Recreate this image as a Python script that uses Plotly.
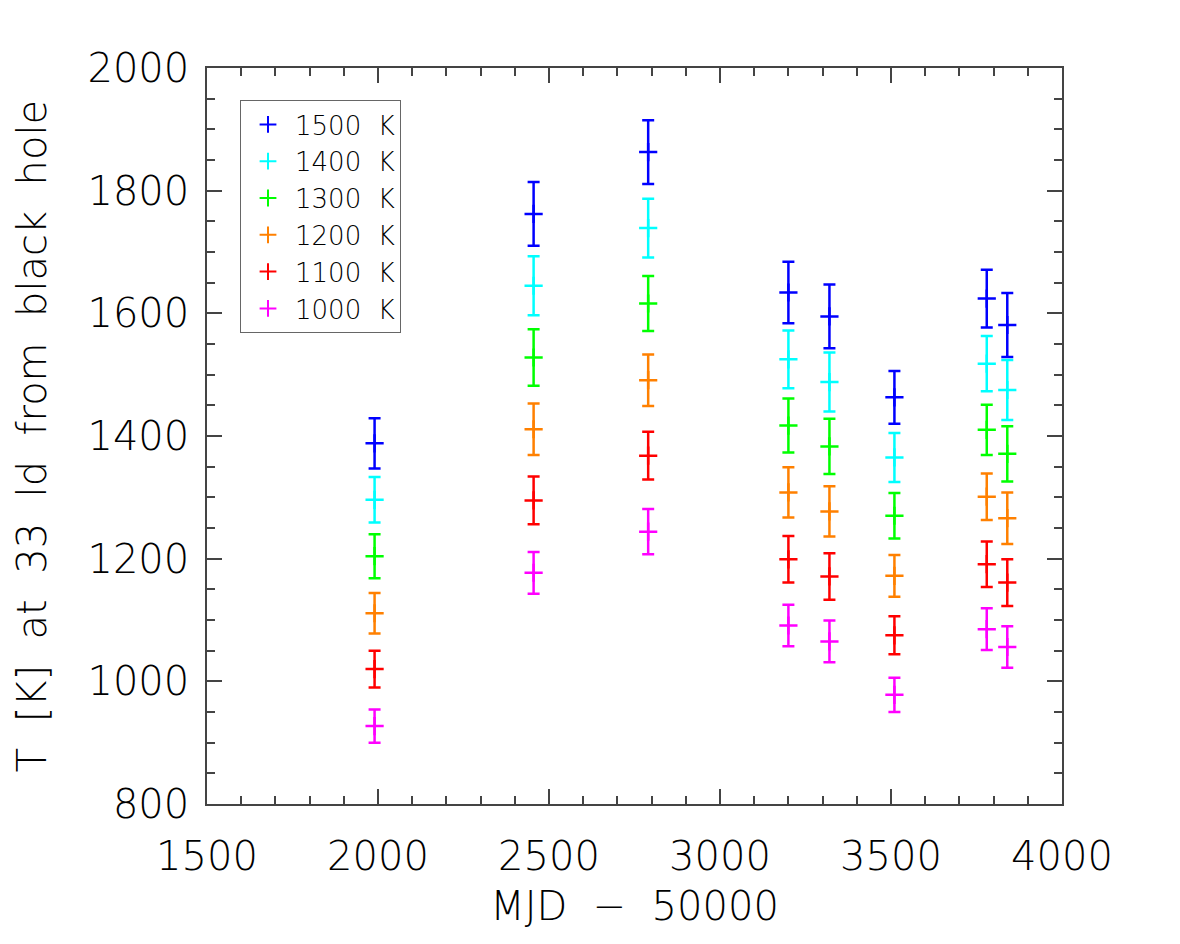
import plotly.graph_objects as go

mjd = [1990, 2455, 2790, 3200, 3320, 3510, 3780, 3840]

labels = ["1500\u00a0\u00a0K", "1400\u00a0\u00a0K", "1300\u00a0\u00a0K",
          "1200\u00a0\u00a0K", "1100\u00a0\u00a0K", "1000\u00a0\u00a0K"]
colors = ["#0000ff", "#00ffff", "#00ff00", "#ff8000", "#ff0000", "#ff00ff"]

T1500 = [1388, 1762, 1863, 1634, 1595, 1463, 1624, 1581]
e1500 = [41, 52, 52, 50, 52, 43, 47, 52]
T1400 = [1296, 1645, 1739, 1525, 1488, 1365, 1518, 1475]
e1400 = [37, 48, 48, 47, 48, 40, 45, 49]
T1300 = [1204, 1528, 1616, 1417, 1383, 1270, 1410, 1371]
e1300 = [36, 46, 45, 44, 45, 37, 41, 45]
T1200 = [1111, 1411, 1491, 1308, 1277, 1172, 1301, 1266]
e1200 = [33, 42, 42, 41, 41, 34, 38, 42]
T1100 = [1020, 1295, 1368, 1199, 1171, 1075, 1191, 1161]
e1100 = [30, 39, 39, 38, 38, 31, 37, 38]
T1000 = [927, 1177, 1244, 1091, 1065, 978, 1085, 1056]
e1000 = [27, 34, 37, 34, 34, 28, 34, 34]

series = [(T1500, e1500), (T1400, e1400), (T1300, e1300),
          (T1200, e1200), (T1100, e1100), (T1000, e1000)]

FONT = "DejaVu Sans"
S2 = "\u00a0\u00a0"

fig = go.Figure()
for (vals, errs), lab, col in zip(series, labels, colors):
    fig.add_trace(go.Scatter(
        x=mjd, y=vals, name=lab, mode="markers",
        marker=dict(symbol="cross-thin", size=13, color=col,
                    line=dict(color=col, width=2.5)),
        error_y=dict(type="data", array=errs, visible=True,
                     color=col, thickness=2.5, width=6),
    ))

axis_common = dict(
    showline=True, linecolor="#444", linewidth=1.5, mirror="ticks",
    ticks="inside", tickcolor="#444", tickwidth=1.5, ticklen=15,
    showgrid=False, zeroline=False,
    tickfont=dict(family=FONT, size=40, color="black", weight=200),
)

fig.update_xaxes(
    range=[1500, 4000], tick0=1500, dtick=500,
    minor=dict(ticks="inside", dtick=100, ticklen=8, tickcolor="#444", tickwidth=1.5, showgrid=False),
    title=dict(text="MJD" + S2 + "\u2212" + S2 + "50000",
               font=dict(family=FONT, size=40, color="black", weight=200), standoff=14),
    ticklabelstandoff=16,
    **axis_common,
)
fig.update_yaxes(
    range=[800, 2000], tick0=800, dtick=200,
    minor=dict(ticks="inside", dtick=50, ticklen=8, tickcolor="#444", tickwidth=1.5, showgrid=False),
    title=dict(text=S2.join(["T", "[K]", "at", "33", "ld", "from", "black", "hole"]),
               font=dict(family=FONT, size=40, color="black", weight=200), standoff=28),
    ticklabelstandoff=8,
    **axis_common,
)

fig.update_layout(
    width=1180, height=944,
    margin=dict(l=207, r=118, t=68, b=140),
    paper_bgcolor="white", plot_bgcolor="white",
    showlegend=True,
    legend=dict(
        x=0.0386, y=0.9565, xanchor="left", yanchor="top",
        bordercolor="#666", borderwidth=1, bgcolor="white",
        font=dict(family=FONT, size=26, color="black", weight=200),
        itemsizing="constant", itemwidth=44, tracegroupgap=0,
    ),
)

fig.write_html("out.html")
